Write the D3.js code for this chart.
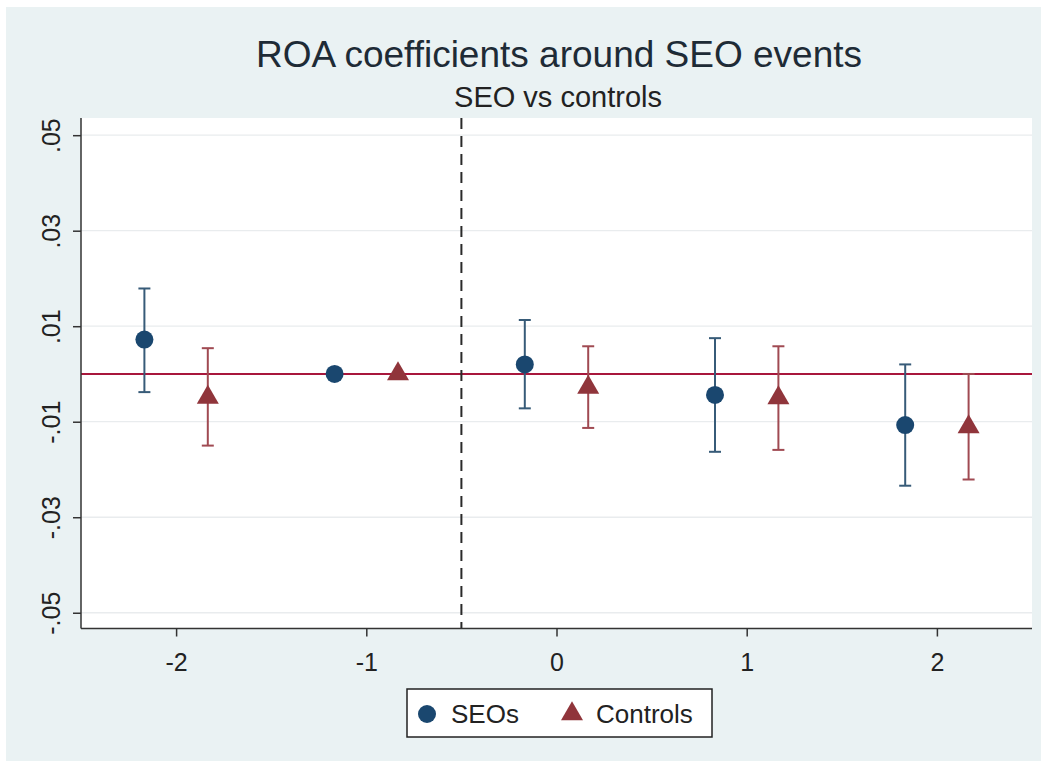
<!DOCTYPE html>
<html>
<head>
<meta charset="utf-8">
<script src="https://cdn.jsdelivr.net/npm/d3@7"></script>
<style>
  html, body { margin: 0; padding: 0; background: #ffffff; }
  svg { display: block; font-family: Arial, "Liberation Sans", sans-serif; }
</style>
</head>
<body>
<svg id="chart" width="1047" height="767"></svg>
<script>
// Event periods relative to the SEO year
const periods = [-2, -1, 0, 1, 2];

// SEO firms: ROA coefficient and 95% confidence bounds (period -1 is the omitted base)
const seoCoef = [0.0072, 0.0000, 0.0020, -0.0044, -0.0107];
const seoLow  = [-0.0038, null, -0.0072, -0.0163, -0.0234];
const seoHigh = [0.0179, null, 0.0113, 0.0075, 0.0020];

// Matched controls: ROA coefficient and 95% confidence bounds
const ctrlCoef = [-0.0049, 0.0000, -0.0028, -0.0050, -0.0111];
const ctrlLow  = [-0.0150, null, -0.0113, -0.0159, -0.0221];
const ctrlHigh = [0.0054, null, 0.0058, 0.0058, 0.0000];

// Axis ticks
const yTicks = [0.05, 0.03, 0.01, -0.01, -0.03, -0.05];
const yTickLabels = [".05", ".03", ".01", "-.01", "-.03", "-.05"];
const xTicks = [-2, -1, 0, 1, 2];
const xTickLabels = ["-2", "-1", "0", "1", "2"];

const seriesNames = ["SEOs", "Controls"];

const svg = d3.select("#chart");

const plot = { left: 81, right: 1032, top: 118, bottom: 628.5 };
const offset = 1 / 6;

const x = d3.scaleLinear().domain([-2.5, 2.5]).range([plot.left, plot.right]);
const y = d3.scaleLinear().domain([-0.0533, 0.0536]).range([plot.bottom, plot.top]);

const seoColor = "#1a476f", seoCiColor = "#375b78";
const ctrlColor = "#90353b", ctrlCiColor = "#a04a52";

// Outer graph background
svg.append("rect").attr("x", 6).attr("y", 7).attr("width", 1035).attr("height", 754)
  .attr("fill", "#eaf2f3");

// Plot region
svg.append("rect").attr("x", plot.left).attr("y", plot.top)
  .attr("width", plot.right - plot.left).attr("height", plot.bottom - plot.top)
  .attr("fill", "#ffffff");

// Horizontal gridlines
svg.append("g").selectAll("line").data(yTicks).join("line")
  .attr("x1", plot.left).attr("x2", plot.right)
  .attr("y1", d => y(d)).attr("y2", d => y(d))
  .attr("stroke", "#e9ecee").attr("stroke-width", 1.3);

// Zero reference line
svg.append("line")
  .attr("x1", plot.left).attr("x2", plot.right)
  .attr("y1", y(0)).attr("y2", y(0))
  .attr("stroke", "#a8173c").attr("stroke-width", 2);

// Vertical event marker between -1 and 0
svg.append("line")
  .attr("x1", x(-0.5)).attr("x2", x(-0.5))
  .attr("y1", plot.top).attr("y2", plot.bottom)
  .attr("stroke", "#2a2a2a").attr("stroke-width", 2)
  .attr("stroke-dasharray", "11,7");

// Axes
const yAxis = d3.axisLeft(y).tickValues(yTicks)
  .tickFormat((d, i) => yTickLabels[i]).tickSize(8).tickSizeOuter(0);
const gy = svg.append("g").attr("transform", `translate(${plot.left},0)`).call(yAxis);
gy.select(".domain").attr("stroke", "#333").attr("stroke-width", 1.5)
  .attr("d", `M0,${plot.top}V${plot.bottom}`);
gy.selectAll(".tick line").attr("stroke", "#333").attr("stroke-width", 1.5);
gy.selectAll(".tick text")
  .attr("fill", "#222").attr("font-size", 25)
  .attr("text-anchor", "middle")
  .attr("x", null).attr("dy", null)
  .attr("transform", "translate(-21,0) rotate(-90)");

const xAxis = d3.axisBottom(x).tickValues(xTicks)
  .tickFormat((d, i) => xTickLabels[i]).tickSize(8).tickSizeOuter(0);
const gx = svg.append("g").attr("transform", `translate(0,${plot.bottom})`).call(xAxis);
gx.select(".domain").attr("stroke", "#333").attr("stroke-width", 1.5)
  .attr("d", `M${plot.left},0H${plot.right}`);
gx.selectAll(".tick line").attr("stroke", "#333").attr("stroke-width", 1.5);
gx.selectAll(".tick text")
  .attr("fill", "#222").attr("font-size", 25)
  .attr("y", 42).attr("dy", null);

// Confidence interval caps
function drawCI(low, high, shift, color) {
  const rows = periods.map((p, i) => ({ p, lo: low[i], hi: high[i] }))
    .filter(d => d.lo !== null && d.hi !== null);
  const g = svg.append("g").attr("stroke", color).attr("stroke-width", 2).attr("fill", "none");
  g.selectAll("line.v").data(rows).join("line").attr("class", "v")
    .attr("x1", d => x(d.p + shift)).attr("x2", d => x(d.p + shift))
    .attr("y1", d => y(d.hi)).attr("y2", d => y(d.lo));
  g.selectAll("line.t").data(rows).join("line").attr("class", "t")
    .attr("x1", d => x(d.p + shift) - 6).attr("x2", d => x(d.p + shift) + 6)
    .attr("y1", d => y(d.hi)).attr("y2", d => y(d.hi));
  g.selectAll("line.b").data(rows).join("line").attr("class", "b")
    .attr("x1", d => x(d.p + shift) - 6).attr("x2", d => x(d.p + shift) + 6)
    .attr("y1", d => y(d.lo)).attr("y2", d => y(d.lo));
}
drawCI(seoLow, seoHigh, -offset, seoCiColor);
drawCI(ctrlLow, ctrlHigh, offset, ctrlCiColor);

// Triangle path with its centroid at (cx, cy)
function triangle(cx, cy) {
  const w = 22, h = 19;
  const top = cy - h * 2 / 3, base = cy + h / 3;
  return `M${cx},${top}L${cx + w / 2},${base}L${cx - w / 2},${base}Z`;
}

// Point estimates
svg.append("g").selectAll("circle").data(periods).join("circle")
  .attr("cx", (d) => x(d - offset)).attr("cy", (d, i) => y(seoCoef[i]))
  .attr("r", 9).attr("fill", seoColor);

svg.append("g").selectAll("path").data(periods).join("path")
  .attr("d", (d, i) => triangle(x(d + offset), y(ctrlCoef[i])))
  .attr("fill", ctrlColor);

// Titles
svg.append("text").attr("x", 559).attr("y", 67).attr("text-anchor", "middle")
  .attr("font-size", 37).attr("fill", "#1e2b36")
  .text("ROA coefficients around SEO events");
svg.append("text").attr("x", 558).attr("y", 107).attr("text-anchor", "middle")
  .attr("font-size", 29).attr("fill", "#222")
  .text("SEO vs controls");

// Legend
const legend = svg.append("g");
legend.append("rect").attr("x", 407).attr("y", 689).attr("width", 305).attr("height", 48)
  .attr("fill", "#ffffff").attr("stroke", "#222").attr("stroke-width", 1.5);
legend.append("circle").attr("cx", 427).attr("cy", 714).attr("r", 9).attr("fill", seoColor);
legend.append("text").attr("x", 451).attr("y", 723).attr("font-size", 26).attr("fill", "#222")
  .text(seriesNames[0]);
legend.append("path").attr("d", triangle(572, 714)).attr("fill", ctrlColor);
legend.append("text").attr("x", 596).attr("y", 723).attr("font-size", 26).attr("fill", "#222")
  .text(seriesNames[1]);
</script>
</body>
</html>
